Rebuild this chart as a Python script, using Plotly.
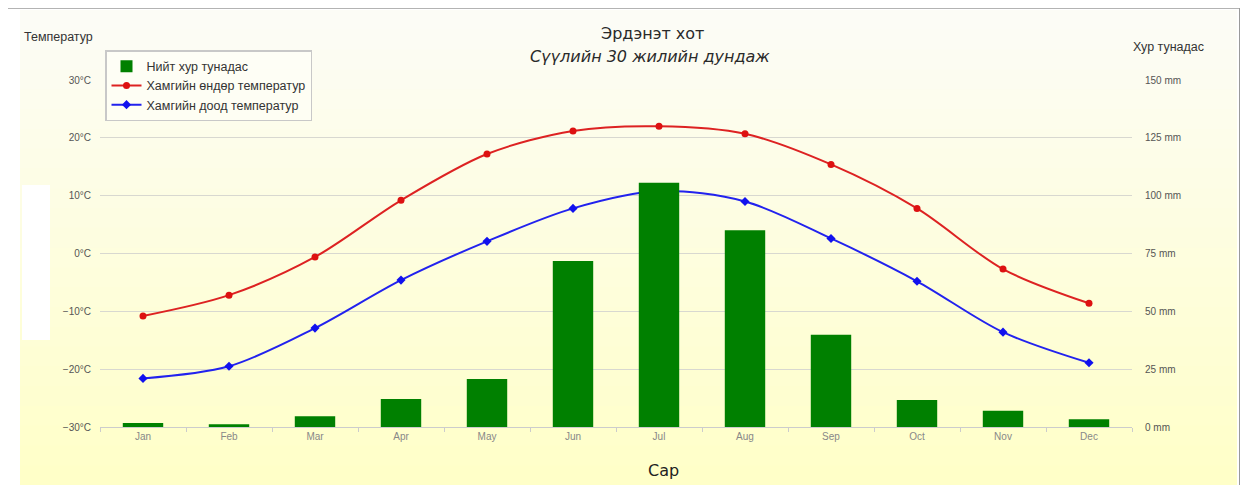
import plotly.graph_objects as go

months = ["Jan", "Feb", "Mar", "Apr", "May", "Jun", "Jul", "Aug", "Sep", "Oct", "Nov", "Dec"]
precip_mm = [1.7, 1.2, 4.7, 12.1, 20.8, 71.8, 105.6, 85.0, 39.9, 11.7, 7.0, 3.3]
temp_max = [-10.8, -7.2, -0.6, 9.2, 17.2, 21.2, 22.0, 20.7, 15.4, 7.8, -2.7, -8.6]
temp_min = [-21.6, -19.5, -12.9, -4.6, 2.1, 7.8, 10.8, 9.0, 2.6, -4.8, -13.6, -18.9]

name_precip = "Нийт хур тунадас"
name_max = "Хамгийн өндөр температур"
name_min = "Хамгийн доод температур"

fig = go.Figure()
fig.add_trace(go.Bar(x=months, y=precip_mm, name=name_precip, yaxis="y2",
                     marker=dict(color="#008000", line=dict(width=0))))
fig.add_trace(go.Scatter(x=months, y=temp_max, name=name_max, mode="lines+markers",
                         line=dict(color="#dd2222", width=2, shape="spline", smoothing=0.9),
                         marker=dict(symbol="circle", size=7, color="#dd1111")))
fig.add_trace(go.Scatter(x=months, y=temp_min, name=name_min, mode="lines+markers",
                         line=dict(color="#2222ee", width=2, shape="spline", smoothing=0.9),
                         marker=dict(symbol="diamond", size=7, color="#1111ee")))

# the page body adds an 8px offset; work in screen pixels and compensate
OFF = 8
SW, SH = 1248, 485
W, H = SW - OFF, SH - OFF
L, R, T, B = 100 - OFF, SW - 1132, 80 - OFF, SH - 427
pw, ph = W - L - R, H - T - B

def px_x(x):
    return (x - 100) / pw

def px_y(y):
    return (427 - y) / ph

shapes = []
shapes.append(dict(type="rect", xref="paper", yref="paper", x0=px_x(0), x1=px_x(SW),
                   y0=px_y(SH), y1=px_y(0), fillcolor="white", line=dict(width=0), layer="below"))
n = 24
top_c = (252, 252, 246)
bot_c = (255, 255, 200)
for i in range(n):
    t = i / (n - 1)
    c = tuple(int(round(top_c[k] + (bot_c[k] - top_c[k]) * t)) for k in range(3))
    y0 = 10 + (SH - 10) * i / n
    y1 = 10 + (SH - 10) * (i + 1) / n + 1
    shapes.append(dict(type="rect", xref="paper", yref="paper", x0=px_x(20), x1=px_x(1237),
                       y0=px_y(y1), y1=px_y(y0), fillcolor="rgb(%d,%d,%d)" % c,
                       line=dict(width=0), layer="below"))
shapes.append(dict(type="rect", xref="paper", yref="paper", x0=px_x(22), x1=px_x(50),
                   y0=px_y(340), y1=px_y(185), fillcolor="white", line=dict(width=0), layer="below"))
shapes.append(dict(type="line", xref="paper", yref="paper", x0=px_x(5), x1=px_x(1241),
                   y0=px_y(8), y1=px_y(8), line=dict(color="#9a9a9a", width=1.5), layer="below"))
shapes.append(dict(type="line", xref="paper", yref="paper", x0=px_x(1240), x1=px_x(1240),
                   y0=px_y(8), y1=px_y(SH), line=dict(color="#9a9a9a", width=2), layer="below"))
shapes.append(dict(type="line", xref="paper", yref="paper", x0=px_x(5.5), x1=px_x(5.5),
                   y0=px_y(8), y1=px_y(SH), line=dict(color="#d0d0d0", width=1), layer="below"))

annotations = [
    dict(text="Эрдэнэт хот", x=px_x(652), y=px_y(34), xref="paper", yref="paper",
         xanchor="center", yanchor="middle",
         showarrow=False, font=dict(family="DejaVu Sans", size=16, color="#2a2a2a")),
    dict(text="<i>Сүүлийн 30 жилийн дундаж</i>", x=px_x(650), y=px_y(57), xref="paper", yref="paper",
         xanchor="center", yanchor="middle",
         showarrow=False, font=dict(family="DejaVu Sans", size=16, color="#2a2a2a")),
    dict(text="Температур", x=px_x(22), y=px_y(37), xref="paper", yref="paper",
         xanchor="left", yanchor="middle",
         showarrow=False, font=dict(family="Liberation Sans", size=12.5, color="#333333")),
    dict(text="Хур тунадас", x=px_x(1206), y=px_y(47), xref="paper", yref="paper",
         xanchor="right", yanchor="middle",
         showarrow=False, font=dict(family="Liberation Sans", size=12.5, color="#333333")),
    dict(text="Сар", x=px_x(663), y=px_y(470), xref="paper", yref="paper",
         xanchor="center", yanchor="middle",
         showarrow=False, font=dict(family="DejaVu Sans", size=16, color="#222222")),
]

fig.update_layout(
    width=W, height=H,
    margin=dict(l=L, r=R, t=T, b=B, pad=0),
    paper_bgcolor="rgba(0,0,0,0)",
    plot_bgcolor="rgba(0,0,0,0)",
    bargap=0.53,
    shapes=shapes,
    annotations=annotations,
    font=dict(family="Liberation Sans", color="#333333"),
    legend=dict(x=px_x(105), y=px_y(50), xanchor="left", yanchor="top",
                bgcolor="rgba(255,255,250,0.5)", bordercolor="#c8c8c8", borderwidth=1.5,
                font=dict(family="Liberation Sans", size=12.5, color="#333333"),
                tracegroupgap=0, itemwidth=30),
    showlegend=True,
    xaxis=dict(type="category", showgrid=False, showline=True, linecolor="#cccccc", linewidth=1,
               ticks="outside", tickson="boundaries", ticklen=4, tickcolor="#cccccc",
               tickfont=dict(family="Liberation Sans", size=10, color="#888888"),
               range=[-0.5, 11.5]),
    yaxis=dict(range=[-30, 30], dtick=10, tick0=-30, ticksuffix="°C", showgrid=True,
               gridcolor="#d8d8d0", gridwidth=1, zeroline=False, showline=False,
               ticklabelstandoff=8,
               tickfont=dict(family="Liberation Sans", size=10, color="#555555")),
    yaxis2=dict(range=[0, 150], dtick=25, tick0=0, ticksuffix=" mm", overlaying="y", side="right",
                showgrid=False, zeroline=False, showline=False, ticklabelstandoff=12,
                tickfont=dict(family="Liberation Sans", size=10, color="#555555")),
)

fig.write_html("out.html")
